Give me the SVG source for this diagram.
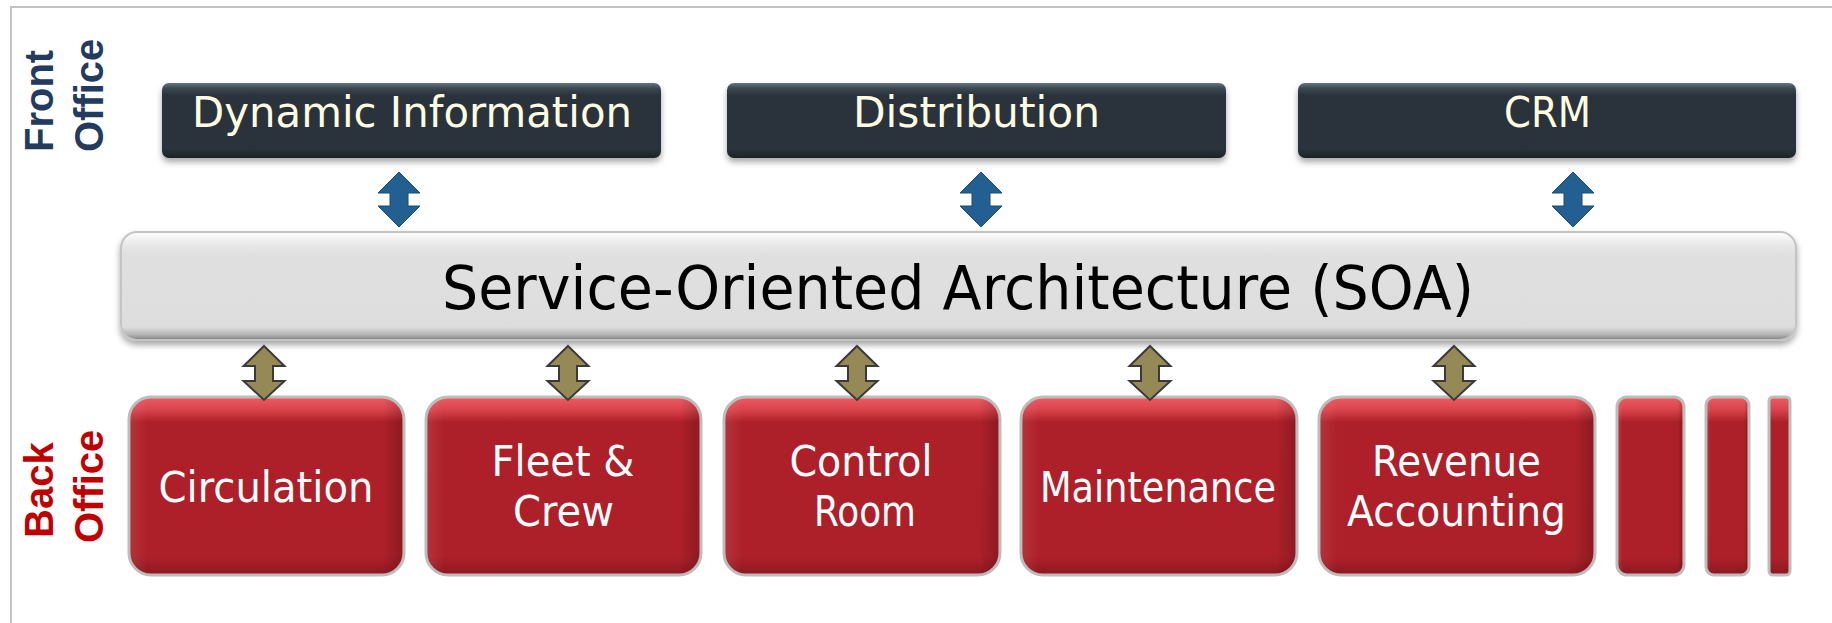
<svg xmlns="http://www.w3.org/2000/svg" width="1832" height="623" viewBox="0 0 1832 623">
<style>
.frame{stroke:#C3C3C3;stroke-width:2;fill:none}
.side{font-family:"Liberation Sans",Arial,sans-serif;font-weight:bold;font-size:40px}
.front{fill:#243B60}
.back{fill:#C00000}
.dark{fill:url(#darkGrad);filter:url(#shadow)}
.darkTxt{font-family:"DejaVu Sans",sans-serif;font-size:43px;fill:#FFFCE0;text-anchor:middle}
.soa{fill:url(#soaGrad);stroke:#C4C4C4;stroke-width:2;filter:url(#shadow)}
.soaTxt{font-family:"DejaVu Sans",sans-serif;font-size:61px;fill:#000;text-anchor:middle}
.red{fill:url(#redGrad);stroke:#BDBDBD;stroke-width:3}
.redSide{fill:url(#redSideGrad)}
.redTxt{font-family:"DejaVu Sans",sans-serif;font-size:43px;fill:#FFFFFF;text-anchor:middle}
.blue{fill:#236092;stroke:#1B4B76;stroke-width:1}
.olive{fill:#958A55;stroke:#3A3A3A;stroke-width:2;stroke-linejoin:miter}
</style>
<defs>
<filter id="shadow" x="-5%" y="-20%" width="110%" height="150%">
<feDropShadow dx="0" dy="4" stdDeviation="3" flood-color="#000" flood-opacity="0.35"/>
</filter>
<linearGradient id="darkGrad" x1="0" y1="0" x2="0" y2="1">
<stop offset="0" stop-color="#66757E"/>
<stop offset="0.07" stop-color="#3C4952"/>
<stop offset="0.16" stop-color="#29333A"/>
<stop offset="0.88" stop-color="#29333A"/>
<stop offset="1" stop-color="#1C2328"/>
</linearGradient>
<linearGradient id="soaGrad" x1="0" y1="0" x2="0" y2="1">
<stop offset="0" stop-color="#FFFFFF"/>
<stop offset="0.1" stop-color="#EBEBEB"/>
<stop offset="0.2" stop-color="#E0E0E0"/>
<stop offset="0.88" stop-color="#DDDDDD"/>
<stop offset="0.95" stop-color="#B5B5B5"/>
<stop offset="1" stop-color="#7E7E7E"/>
</linearGradient>
<linearGradient id="redGrad" x1="0" y1="0" x2="0" y2="1">
<stop offset="0" stop-color="#EE5C64"/>
<stop offset="0.07" stop-color="#DA444C"/>
<stop offset="0.14" stop-color="#AE2029"/>
<stop offset="0.9" stop-color="#AD2029"/>
<stop offset="1" stop-color="#8C1820"/>
</linearGradient>
<linearGradient id="redSideGrad" x1="0" y1="0" x2="1" y2="0">
<stop offset="0" stop-color="#FFFFFF" stop-opacity="0.08"/>
<stop offset="0.06" stop-color="#FFFFFF" stop-opacity="0"/>
<stop offset="0.93" stop-color="#000000" stop-opacity="0"/>
<stop offset="1" stop-color="#000000" stop-opacity="0.18"/>
</linearGradient>
<path id="dblBlue" d="M0,0 L21,21 L9,21 L9,34 L21,34 L0,55 L-21,34 L-9,34 L-9,21 L-21,21 Z"/>
<path id="dblOlive" d="M0,0 L20.5,20 L9,20 L9,35 L20.5,35 L0,54 L-20.5,35 L-9,35 L-9,20 L-20.5,20 Z"/>
</defs>

<g id="frame">
<line class="frame" x1="10" y1="7" x2="1832" y2="7"/>
<line class="frame" x1="11" y1="6" x2="11" y2="623"/>
</g>

<g id="label-front-office">
<text class="side front" transform="translate(53,152) rotate(-90)">Front</text>
<text class="side front" transform="translate(103,152) rotate(-90)">Office</text>
</g>
<g id="label-back-office">
<text class="side back" transform="translate(53,538) rotate(-90)">Back</text>
<text class="side back" transform="translate(103,543) rotate(-90)">Office</text>
</g>

<g id="node-dynamic-information">
<rect class="dark" x="162" y="83" width="499" height="75" rx="7"/>
<text class="darkTxt" x="412" y="127" textLength="440" lengthAdjust="spacingAndGlyphs">Dynamic Information</text>
</g>
<g id="node-distribution">
<rect class="dark" x="727" y="83" width="499" height="75" rx="7"/>
<text class="darkTxt" x="976.5" y="127" textLength="247" lengthAdjust="spacingAndGlyphs">Distribution</text>
</g>
<g id="node-crm">
<rect class="dark" x="1298" y="83" width="498" height="75" rx="7"/>
<text class="darkTxt" x="1547.5" y="127" textLength="87" lengthAdjust="spacingAndGlyphs">CRM</text>
</g>

<g id="node-soa">
<rect class="soa" x="121" y="232" width="1675" height="108" rx="16"/>
<text class="soaTxt" x="958" y="309" textLength="1032" lengthAdjust="spacingAndGlyphs">Service-Oriented Architecture (SOA)</text>
</g>

<g id="node-circulation">
<rect class="red" x="129" y="397" width="275" height="178" rx="22"/>
<rect class="redSide" x="131" y="399" width="271" height="174" rx="20"/>
<text class="redTxt" x="266" y="502" textLength="215" lengthAdjust="spacingAndGlyphs">Circulation</text>
</g>
<g id="node-fleet-crew">
<rect class="red" x="426" y="397" width="275" height="178" rx="22"/>
<rect class="redSide" x="428" y="399" width="271" height="174" rx="20"/>
<text class="redTxt" x="563" y="476" textLength="143" lengthAdjust="spacingAndGlyphs">Fleet &amp;</text>
<text class="redTxt" x="563.5" y="526" textLength="101" lengthAdjust="spacingAndGlyphs">Crew</text>
</g>
<g id="node-control-room">
<rect class="red" x="724" y="397" width="276" height="178" rx="22"/>
<rect class="redSide" x="726" y="399" width="272" height="174" rx="20"/>
<text class="redTxt" x="861" y="476" textLength="143" lengthAdjust="spacingAndGlyphs">Control</text>
<text class="redTxt" x="865" y="526" textLength="102" lengthAdjust="spacingAndGlyphs">Room</text>
</g>
<g id="node-maintenance">
<rect class="red" x="1021" y="397" width="276" height="178" rx="22"/>
<rect class="redSide" x="1023" y="399" width="272" height="174" rx="20"/>
<text class="redTxt" x="1158" y="502" textLength="236" lengthAdjust="spacingAndGlyphs">Maintenance</text>
</g>
<g id="node-revenue-accounting">
<rect class="red" x="1319" y="397" width="276" height="178" rx="22"/>
<rect class="redSide" x="1321" y="399" width="272" height="174" rx="20"/>
<text class="redTxt" x="1456.5" y="476" textLength="169" lengthAdjust="spacingAndGlyphs">Revenue</text>
<text class="redTxt" x="1456.5" y="526" textLength="219" lengthAdjust="spacingAndGlyphs">Accounting</text>
</g>
<g id="node-more-1">
<rect class="red" x="1617" y="397" width="67" height="178" rx="10"/>
<rect class="redSide" x="1619" y="399" width="63" height="174" rx="8"/>
</g>
<g id="node-more-2">
<rect class="red" x="1706" y="397" width="43" height="178" rx="8"/>
<rect class="redSide" x="1708" y="399" width="39" height="174" rx="6"/>
</g>
<g id="node-more-3">
<rect class="red" x="1769" y="397" width="21" height="178" rx="4"/>
</g>

<g id="connectors">
<use href="#dblBlue" class="blue" x="399" y="172"/>
<use href="#dblBlue" class="blue" x="981" y="172"/>
<use href="#dblBlue" class="blue" x="1573" y="172"/>
<use href="#dblOlive" class="olive" x="264" y="346"/>
<use href="#dblOlive" class="olive" x="568" y="346"/>
<use href="#dblOlive" class="olive" x="857" y="346"/>
<use href="#dblOlive" class="olive" x="1150" y="346"/>
<use href="#dblOlive" class="olive" x="1454" y="346"/>
</g>
</svg>
